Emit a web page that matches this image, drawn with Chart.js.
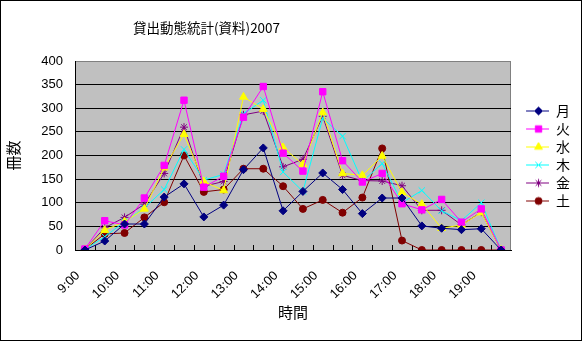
<!DOCTYPE html>
<html lang="ja">
<head>
<meta charset="utf-8">
<script src="https://cdn.jsdelivr.net/npm/chart.js@4.4.1/dist/chart.umd.min.js"></script>
<style>
  html, body { margin: 0; padding: 0; background: #fff; }
  #wrap { position: relative; width: 582px; height: 341px; }
  #chart { position: absolute; left: 0; top: 0; }
  #title {
    position: absolute; left: 133px; top: 20px;
    font: 13.5px/14px "Noto Sans CJK JP", sans-serif; color: #000; white-space: nowrap;
  }
</style>
</head>
<body>
<div id="wrap">
  <canvas id="chart" width="582" height="341"></canvas>
  <div id="title">貸出動態統計(資料)2007</div>
</div>
<script>
// 30分ごとの時刻（ラベルは正時のみ表示）
const times = ['9:00','9:30','10:00','10:30','11:00','11:30','12:00','12:30','13:00','13:30','14:00',
               '14:30','15:00','15:30','16:00','16:30','17:00','17:30','18:00','18:30','19:00','19:30'];

const days = ['月', '火', '水', '木', '金', '土'];

// 曜日別の貸出冊数
const mon = [0, 19, 55, 55, 112, 140, 70, 95, 170, 216, 83, 124, 163, 128, 77, 110, 110, 51, 46, 43, 45, 0];
const tue = [2, 62, 53, 110, 179, 317, 133, 156, 281, 346, 205, 167, 335, 189, 144, 162, 98, 85, 107, 59, 87, 0];
const wed = [1, 42, 60, 87, 174, 245, 145, 126, 324, 298, 217, 181, 291, 162, 158, 199, 122, 97, 46, 53, 79, 0];
const thu = [1, 28, 60, 89, 128, 213, 148, 160, 288, 317, 165, 124, 279, 241, 145, 183, 100, 126, 83, 62, 100, 0];
const fri = [1, 47, 69, 97, 162, 260, 135, 145, 286, 294, 176, 192, 283, 158, 147, 146, 136, 84, 84, 53, 80, 0];
const sat = [1, 34, 36, 69, 101, 200, 123, 128, 172, 172, 135, 87, 106, 79, 111, 215, 20, 0, 0, 0, 0, 0];

const yTicks = [0, 50, 100, 150, 200, 250, 300, 350, 400];

const series = [mon, tue, wed, thu, fri, sat];
const looks = [
  { color: '#000080', style: 'rectRot',  radius: 4 },
  { color: '#FF00FF', style: 'rect',     radius: 4.5 },
  { color: '#FFFF00', style: 'triangle', radius: 4.5 },
  { color: '#00FFFF', style: 'crossRot', radius: 4.5 },
  { color: '#800080', style: 'star',     radius: 4 },
  { color: '#800000', style: 'circle',   radius: 3.5 }
];

const font = '"Liberation Sans", "Noto Sans CJK JP", sans-serif';
const jpFont = '"Noto Sans CJK JP", sans-serif';

// 凡例用：線＋マーカーの小さな画像
function legendSwatch(look) {
  const c = document.createElement('canvas');
  c.width = 34; c.height = 12;
  const ctx = c.getContext('2d');
  ctx.strokeStyle = look.color;
  ctx.fillStyle = look.color;
  ctx.lineWidth = 1;
  ctx.beginPath();
  ctx.moveTo(11, 6.5);
  ctx.lineTo(34, 6.5);
  ctx.stroke();
  Chart.helpers.drawPoint(ctx, { pointStyle: look.style, radius: look.radius, rotation: 0, borderWidth: 1 }, 23.5, 6.5);
  return c;
}
const swatches = looks.map(legendSwatch);

const plotFrame = {
  id: 'plotFrame',
  beforeDraw(chart) {
    const { ctx, chartArea: a } = chart;
    ctx.save();
    ctx.fillStyle = '#fff';
    ctx.fillRect(0, 0, chart.width, chart.height);
    ctx.fillStyle = '#C0C0C0';
    ctx.fillRect(a.left, a.top, a.right - a.left, a.bottom - a.top);
    ctx.strokeStyle = '#808080';
    ctx.lineWidth = 1;
    ctx.beginPath();
    ctx.moveTo(a.left, a.top + 0.5);
    ctx.lineTo(a.right - 0.5, a.top + 0.5);
    ctx.lineTo(a.right - 0.5, a.bottom);
    ctx.stroke();
    ctx.restore();
  },
  beforeDatasetsDraw(chart) {
    // 項目軸の目盛り（内向き、項目の境界）
    const { ctx, chartArea: a } = chart;
    const xs = chart.scales.x;
    const step = xs.getPixelForValue(1) - xs.getPixelForValue(0);
    ctx.save();
    ctx.strokeStyle = '#000';
    ctx.lineWidth = 1;
    ctx.beginPath();
    for (let i = 1; i < times.length; i++) {
      const x = Math.round(xs.getPixelForValue(i) - step / 2) + 0.5;
      ctx.moveTo(x, a.bottom);
      ctx.lineTo(x, a.bottom - 5);
    }
    ctx.stroke();
    ctx.restore();
  },
  afterDraw(chart) {
    const { ctx } = chart;
    ctx.save();
    ctx.strokeStyle = '#000';
    ctx.lineWidth = 1;
    ctx.strokeRect(0.5, 0.5, chart.width - 1, chart.height - 1);
    ctx.restore();
  }
};

new Chart(document.getElementById('chart'), {
  type: 'line',
  data: {
    labels: times,
    datasets: series.map((values, i) => ({
      label: days[i],
      data: values,
      borderColor: looks[i].color,
      backgroundColor: looks[i].color,
      borderWidth: 1,
      pointStyle: looks[i].style,
      pointRadius: looks[i].radius,
      pointBorderWidth: 1,
      pointBackgroundColor: looks[i].color,
      pointBorderColor: looks[i].color,
      tension: 0,
      fill: false
    }))
  },
  options: {
    responsive: false,
    animation: false,
    devicePixelRatio: 1,
    layout: { padding: { top: 61, right: 2, bottom: 16, left: 0 } },
    plugins: {
      legend: {
        position: 'right',
        fullSize: false,
        labels: {
          usePointStyle: true,
          pointStyleWidth: 34,
          padding: 4,
          color: '#000',
          font: { family: jpFont, size: 14 },
          generateLabels: (chart) => chart.data.datasets.map((ds, i) => ({
            text: ds.label,
            datasetIndex: i,
            pointStyle: swatches[i],
            fillStyle: looks[i].color,
            strokeStyle: looks[i].color,
            lineWidth: 0,
            hidden: false,
            fontColor: '#000'
          }))
        }
      },
      title: { display: false },
      tooltip: { enabled: false }
    },
    scales: {
      x: {
        type: 'category',
        offset: true,
        afterFit: (s) => { s.height = 75; },
        grid: { drawOnChartArea: false, drawTicks: false },
        border: { display: true, color: '#000', width: 1 },
        ticks: {
          autoSkip: false,
          maxRotation: 45,
          minRotation: 45,
          padding: 18,
          labelOffset: -7,
          color: '#000',
          font: { family: font, size: 13 },
          callback: (v, i) => times[i].endsWith(':00') ? times[i] : ''
        },
        title: { display: true, text: '時間', color: '#000', font: { family: jpFont, size: 15 } }
      },
      y: {
        min: 0,
        max: 400,
        afterFit: (s) => { s.width = 75; },
        afterBuildTicks: (s) => { s.ticks = yTicks.map(v => ({ value: v })); },
        grid: {
          drawTicks: false,
          color: (c) => c.tick && c.tick.value === 400 ? '#808080' : '#000',
          lineWidth: 1
        },
        border: { display: true, color: '#000', width: 1 },
        ticks: { padding: 12, color: '#000', font: { family: font, size: 13 } },
        title: { display: true, text: '冊数', color: '#000', font: { family: jpFont, size: 15 } }
      }
    }
  },
  plugins: [plotFrame]
});
</script>
</body>
</html>
